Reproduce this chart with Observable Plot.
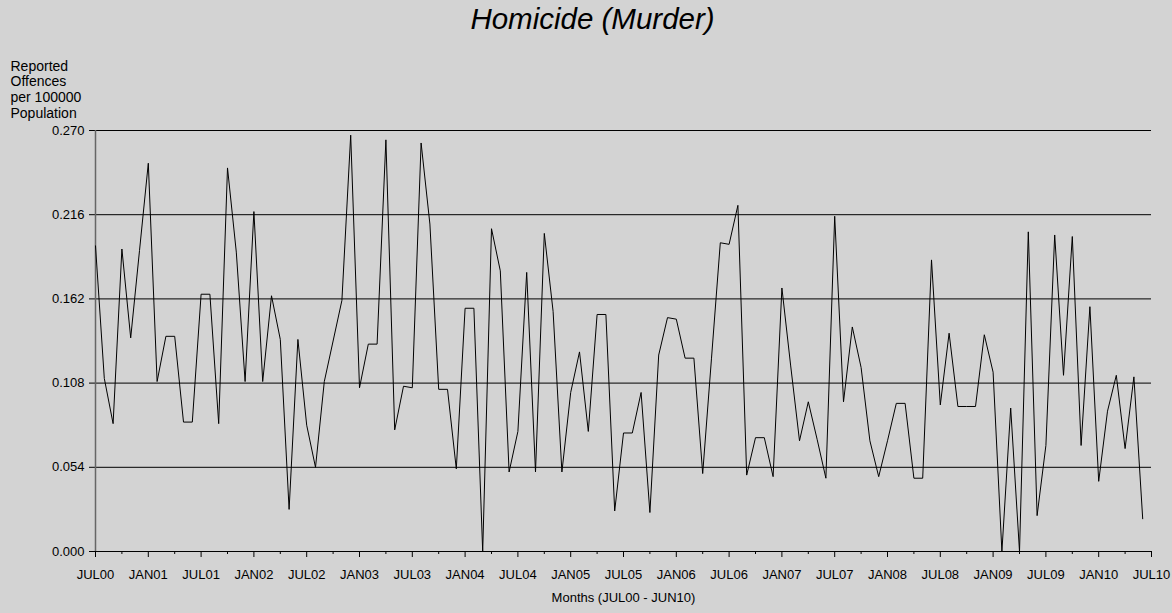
<!DOCTYPE html>
<html>
<head>
<meta charset="utf-8">
<script src="https://cdn.jsdelivr.net/npm/d3@7"></script>
<script src="https://cdn.jsdelivr.net/npm/@observablehq/plot@0.6"></script>
<style>
  html, body { margin: 0; padding: 0; background: #d3d3d3; }
  body { width: 1172px; height: 613px; overflow: hidden; font-family: "Liberation Sans", Arial, sans-serif; }
  #title { height: 44px; line-height: 38px; text-align: center; font-style: italic; font-size: 29.5px; padding-left: 13px; box-sizing: border-box; color: #000; }
</style>
</head>
<body>
<div id="title">Homicide (Murder)</div>
<div id="chart"></div>
<script>
// Monthly rates, JUL00 (index 0) .. JUN10 (index 119)
const rates = [
  0.196, 0.111, 0.082, 0.194, 0.137, 0.193, 0.249, 0.109, 0.138, 0.138,
  0.083, 0.083, 0.165, 0.165, 0.082, 0.246, 0.192, 0.109, 0.218, 0.109,
  0.164, 0.136, 0.027, 0.136, 0.081, 0.054, 0.109, 0.135, 0.161, 0.267,
  0.105, 0.133, 0.133, 0.264, 0.078, 0.106, 0.105, 0.262, 0.210, 0.104,
  0.104, 0.053, 0.156, 0.156, 0.000, 0.207, 0.180, 0.051, 0.077, 0.179,
  0.051, 0.204, 0.154, 0.051, 0.102, 0.128, 0.077, 0.152, 0.152, 0.026,
  0.076, 0.076, 0.102, 0.025, 0.126, 0.150, 0.149, 0.124, 0.124, 0.050,
  0.124, 0.198, 0.197, 0.222, 0.049, 0.073, 0.073, 0.048, 0.169, 0.119,
  0.071, 0.096, 0.072, 0.047, 0.215, 0.096, 0.144, 0.118, 0.071, 0.048,
  0.071, 0.095, 0.095, 0.047, 0.047, 0.187, 0.094, 0.140, 0.093, 0.093,
  0.093, 0.139, 0.115, 0.000, 0.092, 0.000, 0.205, 0.023, 0.068, 0.203,
  0.113, 0.202, 0.068, 0.157, 0.045, 0.090, 0.113, 0.066, 0.112, 0.021
];
const xTickLabels = ["JUL00","JAN01","JUL01","JAN02","JUL02","JAN03","JUL03","JAN04","JUL04","JAN05","JUL05",
                     "JAN06","JUL06","JAN07","JUL07","JAN08","JUL08","JAN09","JUL09","JAN10","JUL10"];
const yTicks = [0, 0.054, 0.108, 0.162, 0.216, 0.270];
const yLabel = "Reported\nOffences\nper 100000\nPopulation";
const xLabel = "Months (JUL00 - JUN10)";

const majorTicks = xTickLabels.map((_, i) => i * 6);
const minorTicks = d3.range(3, 120, 6);
const data = rates.map((v, i) => ({month: i, rate: v}));

const chart = Plot.plot({
  width: 1172,
  height: 569,
  marginTop: 86,
  marginLeft: 95,
  marginRight: 21,
  marginBottom: 62,
  style: {background: "transparent", fontFamily: "'Liberation Sans', Arial, sans-serif", fontSize: "13px", color: "#000", overflow: "visible"},
  x: {domain: [0, 120]},
  y: {domain: [0, 0.27]},
  marks: [
    Plot.gridY(yTicks, {stroke: "#000", strokeOpacity: 1, strokeWidth: 1}),
    Plot.axisY(yTicks, {tickSize: 6, tickPadding: 5, tickFormat: d3.format(".3f"), label: null, fontSize: 13}),
    Plot.axisX(majorTicks, {tickSize: 6, tickPadding: 12, tickFormat: d => xTickLabels[Math.round(d / 6)], label: null, fontSize: 13}),
    Plot.axisX(minorTicks, {tickSize: 3, tickFormat: () => "", label: null}),
    Plot.ruleX([0], {stroke: "#666", strokeWidth: 1.5}),
    Plot.ruleY([0], {stroke: "#000"}),
    Plot.line(data, {x: "month", y: "rate", stroke: "#000", strokeWidth: 1}),
    Plot.text([xLabel], {frameAnchor: "bottom", dy: 50, fontSize: 13}),
    Plot.text([yLabel], {frameAnchor: "top-left", dx: -85, dy: -71, textAnchor: "start", lineAnchor: "top", fontSize: 14, lineHeight: 1.12})
  ]
});
document.getElementById("chart").appendChild(chart);
</script>
</body>
</html>
